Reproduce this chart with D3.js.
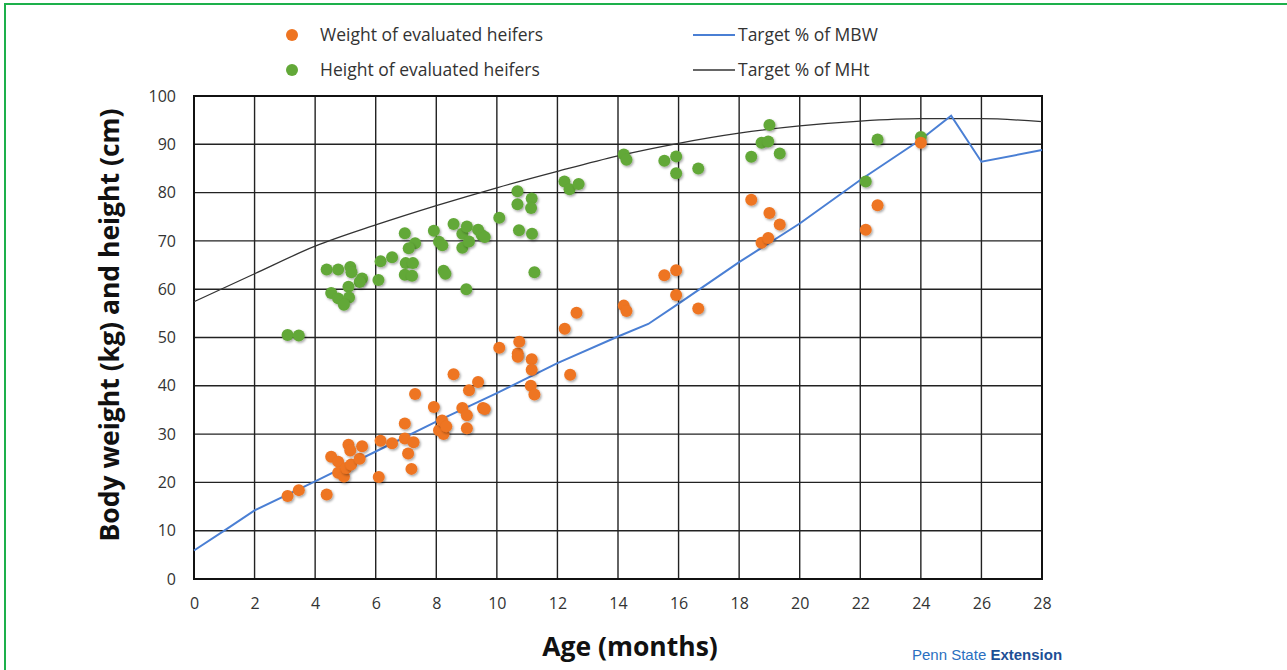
<!DOCTYPE html>
<html>
<head>
<meta charset="utf-8">
<script src="https://cdn.jsdelivr.net/npm/d3@7"></script>
<style>
  body { margin: 0; background: #fff; }
  svg { display: block; font-family: "Open Sans", "Liberation Sans", sans-serif; }
</style>
</head>
<body>
<div id="chart"></div>
<script>
// weight of evaluated heifers [age months, kg]
const weightPts = [
  [3.09, 17.2], [3.46, 18.4], [4.38, 17.5], [4.53, 25.3], [4.76, 24.3], [4.76, 22.0],
  [4.95, 21.2], [5.03, 23.0], [5.19, 23.7], [5.1, 27.8], [5.16, 26.6], [5.47, 24.9],
  [5.55, 27.5], [6.1, 21.1], [6.16, 28.6], [6.54, 28.1], [6.96, 32.2], [6.96, 29.1],
  [7.25, 28.3], [7.07, 26.0], [7.18, 22.8], [7.3, 38.3], [7.92, 35.6], [8.09, 30.8],
  [8.19, 32.8], [8.24, 30.0], [8.33, 31.6], [8.57, 42.4], [8.86, 35.4], [9.01, 33.9],
  [9.01, 31.2], [9.08, 39.1], [9.38, 40.8], [9.54, 35.4], [9.6, 35.2], [10.08, 47.9],
  [10.69, 46.7], [10.69, 46.0], [10.74, 49.1], [11.15, 45.5], [11.15, 43.3], [11.12, 40.0],
  [11.24, 38.2], [12.24, 51.8], [12.42, 42.3], [12.63, 55.1], [14.19, 56.6], [14.28, 55.5],
  [15.53, 62.9], [15.92, 63.9], [15.92, 58.8], [16.65, 56.0], [18.4, 78.5], [19.0, 75.8],
  [19.34, 73.4], [18.74, 69.6], [18.96, 70.6], [22.18, 72.3], [22.57, 77.4], [24.0, 90.3]
];

// height of evaluated heifers [age months, cm]
const heightPts = [
  [3.09, 50.5], [3.46, 50.4], [4.38, 64.1], [4.76, 64.1], [5.16, 64.6], [5.2, 63.5],
  [5.55, 62.2], [5.47, 61.5], [5.1, 60.5], [4.53, 59.2], [4.76, 58.1], [5.12, 58.3],
  [4.95, 56.8], [6.09, 61.9], [6.16, 65.8], [6.54, 66.6], [6.96, 71.6], [6.99, 65.4],
  [7.23, 65.4], [6.96, 63.0], [7.2, 62.8], [7.3, 69.5], [7.09, 68.5], [7.92, 72.1],
  [8.09, 69.8], [8.2, 69.1], [8.24, 63.8], [8.3, 63.2], [8.57, 73.5], [8.86, 71.5],
  [8.86, 68.6], [9.01, 73.0], [9.08, 69.9], [8.99, 60.0], [9.38, 72.3], [9.5, 71.2],
  [9.6, 70.8], [10.08, 74.8], [10.68, 80.3], [10.68, 77.6], [10.73, 72.2], [11.15, 78.8],
  [11.13, 76.8], [11.16, 71.5], [11.24, 63.5], [12.23, 82.3], [12.4, 80.7], [12.7, 81.8],
  [14.19, 87.9], [14.28, 86.8], [15.53, 86.6], [15.92, 87.5], [15.92, 84.0], [16.65, 85.0],
  [18.4, 87.4], [18.74, 90.3], [18.96, 90.6], [19.0, 94.0], [19.34, 88.1], [22.18, 82.3],
  [22.57, 91.0], [24.0, 91.5]
];

// target % of mature body weight
const mbwMonths = [0, 1, 2, 4, 6, 8, 10, 12, 14, 15, 16, 18, 20, 22, 24, 25, 26, 28];
const mbwValues = [5.9, 10.0, 14.2, 20.2, 26.4, 32.6, 38.5, 44.7, 50.2, 52.8, 57.0, 65.6, 73.6, 82.6, 91.0, 95.9, 86.4, 88.8];

// target % of mature height
const mhtMonths = [0, 2, 4, 6, 8, 10, 12, 14, 16, 18, 20, 22, 24, 26, 28];
const mhtValues = [57.4, 63.2, 68.9, 73.3, 77.3, 81.0, 84.4, 87.6, 90.2, 92.3, 93.8, 94.8, 95.3, 95.3, 94.7];

const xTicks = d3.range(0, 29, 2);
const yTicks = d3.range(0, 101, 10);

const legendItems = [
  { label: "Weight of evaluated heifers", type: "dot", color: "#ee7421" },
  { label: "Height of evaluated heifers", type: "dot", color: "#62a838" },
  { label: "Target % of MBW", type: "line", color: "#4a7fd4" },
  { label: "Target % of MHt", type: "line", color: "#333" }
];

const width = 1287, height = 670;
const plot = { left: 194, right: 1042, top: 96, bottom: 579 };

const svg = d3.select("#chart").append("svg")
  .attr("width", width)
  .attr("height", height);

// drop shadow for the markers
const defs = svg.append("defs");
const f = defs.append("filter").attr("id", "shadow")
  .attr("x", "-50%").attr("y", "-50%").attr("width", "200%").attr("height", "200%");
f.append("feDropShadow")
  .attr("dx", 1.2).attr("dy", 1.5).attr("stdDeviation", 1)
  .attr("flood-color", "#000").attr("flood-opacity", 0.35);

// green frame (only top and left visible)
svg.append("rect")
  .attr("x", 5).attr("y", 4)
  .attr("width", 1400).attr("height", 800)
  .attr("fill", "none")
  .attr("stroke", "#1db04b")
  .attr("stroke-width", 2);

const x = d3.scaleLinear().domain([0, 28]).range([plot.left, plot.right]);
const y = d3.scaleLinear().domain([0, 100]).range([plot.bottom, plot.top]);

// grid
svg.append("g")
  .selectAll("line")
  .data(yTicks)
  .join("line")
  .attr("x1", plot.left).attr("x2", plot.right)
  .attr("y1", d => y(d)).attr("y2", d => y(d))
  .attr("stroke", "#222").attr("stroke-width", 1.4);

svg.append("g")
  .selectAll("line")
  .data(xTicks)
  .join("line")
  .attr("x1", d => x(d)).attr("x2", d => x(d))
  .attr("y1", plot.top).attr("y2", plot.bottom)
  .attr("stroke", "#222").attr("stroke-width", 1.4);

svg.append("rect")
  .attr("x", plot.left).attr("y", plot.top)
  .attr("width", plot.right - plot.left)
  .attr("height", plot.bottom - plot.top)
  .attr("fill", "none")
  .attr("stroke", "#111").attr("stroke-width", 2);

// axes
const xAxis = svg.append("g")
  .attr("transform", `translate(0,${plot.bottom})`)
  .call(d3.axisBottom(x).tickValues(xTicks).tickSize(0).tickPadding(19));
const yAxis = svg.append("g")
  .attr("transform", `translate(${plot.left},0)`)
  .call(d3.axisLeft(y).tickValues(yTicks).tickSize(0).tickPadding(18));
[xAxis, yAxis].forEach(a => {
  a.select(".domain").remove();
  a.selectAll("text")
    .attr("font-size", "16px")
    .attr("fill", "#333")
    .attr("font-family", "Open Sans, sans-serif");
});

// target lines
const mbw = mbwMonths.map((m, i) => [m, mbwValues[i]]);
const mht = mhtMonths.map((m, i) => [m, mhtValues[i]]);

svg.append("path")
  .datum(mht)
  .attr("d", d3.line().x(d => x(d[0])).y(d => y(d[1])).curve(d3.curveMonotoneX))
  .attr("fill", "none")
  .attr("stroke", "#333")
  .attr("stroke-width", 1.3);

svg.append("path")
  .datum(mbw)
  .attr("d", d3.line().x(d => x(d[0])).y(d => y(d[1])))
  .attr("fill", "none")
  .attr("stroke", "#4a7fd4")
  .attr("stroke-width", 2);

// points
svg.append("g")
  .selectAll("circle")
  .data(heightPts)
  .join("circle")
  .attr("cx", d => x(d[0]))
  .attr("cy", d => y(d[1]))
  .attr("r", 6)
  .attr("fill", "#62a838")
  .attr("filter", "url(#shadow)");

svg.append("g")
  .selectAll("circle")
  .data(weightPts)
  .join("circle")
  .attr("cx", d => x(d[0]))
  .attr("cy", d => y(d[1]))
  .attr("r", 6)
  .attr("fill", "#ee7421")
  .attr("filter", "url(#shadow)");

// legend
const legPos = [[292, 35], [292, 70], [693, 35], [693, 70]];
legendItems.forEach((d, i) => {
  const [lx, ly] = legPos[i];
  if (d.type === "dot") {
    svg.append("circle").attr("cx", lx).attr("cy", ly).attr("r", 6).attr("fill", d.color);
    svg.append("text").attr("x", lx + 28).attr("y", ly + 6)
      .attr("font-size", "17.5px").attr("fill", "#333").text(d.label);
  } else {
    svg.append("line").attr("x1", lx).attr("x2", lx + 42).attr("y1", ly).attr("y2", ly)
      .attr("stroke", d.color).attr("stroke-width", d.color === "#333" ? 1.3 : 2);
    svg.append("text").attr("x", lx + 45).attr("y", ly + 6)
      .attr("font-size", "17.5px").attr("fill", "#333").text(d.label);
  }
});

// axis titles
svg.append("text")
  .attr("x", 630).attr("y", 656)
  .attr("text-anchor", "middle")
  .attr("font-size", "26.5px").attr("font-weight", "bold").attr("fill", "#111")
  .text("Age (months)");

svg.append("text")
  .attr("transform", "translate(119,325) rotate(-90)")
  .attr("text-anchor", "middle")
  .attr("font-size", "26.5px").attr("font-weight", "bold").attr("fill", "#111")
  .text("Body weight (kg) and height (cm)");

// logo text
const logo = svg.append("text")
  .attr("x", 912).attr("y", 660)
  .attr("font-family", "Liberation Sans, Arial, sans-serif")
  .attr("font-size", "15px");
logo.append("tspan").attr("fill", "#2a6fc0").text("Penn State ");
logo.append("tspan").attr("fill", "#1c4f96").attr("font-weight", "bold").text("Extension");
</script>
</body>
</html>
